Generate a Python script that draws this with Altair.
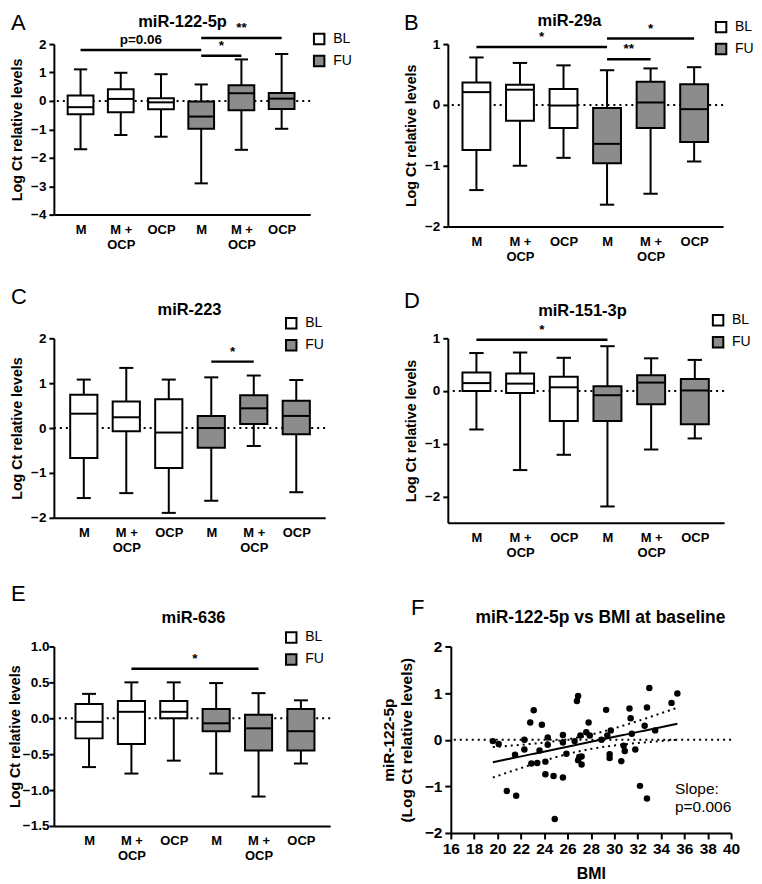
import altair as alt
import pandas as pd
import numpy as np

FONT = "Liberation Sans"
GROUPS = ["M", "M +\nOCP", "OCP", "M", "M +\nOCP", "OCP"]
VISITS = ["BL", "BL", "BL", "FU", "FU", "FU"]
VISIT_COLORS = ["white", "#8c8c8c"]

# ---------------- Panel A: miR-122-5p ----------------
a_low = [-1.70, -1.20, -1.26, -2.90, -1.72, -0.98]
a_q1 = [-0.47, -0.40, -0.29, -0.98, -0.33, -0.28]
a_med = [-0.22, 0.07, -0.05, -0.55, 0.27, 0.08]
a_q3 = [0.19, 0.41, 0.09, -0.02, 0.55, 0.28]
a_high = [1.11, 0.99, 0.94, 0.58, 1.46, 1.65]
a_sig_from = [1, 4, 4]
a_sig_to = [4, 6, 5]
a_sig_y = [1.79, 2.21, 1.59]
a_sig_text = ["p=0.06", "**", "*"]

# ---------------- Panel B: miR-29a ----------------
b_low = [-1.40, -1.00, -0.87, -1.64, -1.46, -0.93]
b_q1 = [-0.74, -0.26, -0.38, -0.96, -0.38, -0.61]
b_med = [0.21, 0.25, -0.01, -0.64, 0.04, -0.07]
b_q3 = [0.37, 0.33, 0.26, -0.05, 0.38, 0.34]
b_high = [0.78, 0.69, 0.65, 0.57, 0.60, 0.62]
b_sig_from = [1, 4, 4]
b_sig_to = [4, 6, 5]
b_sig_y = [0.95, 1.09, 0.75]
b_sig_text = ["*", "*", "**"]

# ---------------- Panel C: miR-223 ----------------
c_low = [-1.56, -1.45, -1.89, -1.62, -0.40, -1.43]
c_q1 = [-0.67, -0.07, -0.89, -0.44, 0.09, -0.14]
c_med = [0.32, 0.24, -0.10, 0.00, 0.44, 0.27]
c_q3 = [0.74, 0.59, 0.64, 0.27, 0.73, 0.61]
c_high = [1.08, 1.34, 1.08, 1.13, 1.17, 1.07]
c_sig_from = [4]
c_sig_to = [5]
c_sig_y = [1.48]
c_sig_text = ["*"]

# ---------------- Panel D: miR-151-3p ----------------
d_low = [-0.73, -1.50, -1.21, -2.19, -1.11, -0.90]
d_q1 = [0.00, -0.04, -0.57, -0.57, -0.25, -0.63]
d_med = [0.15, 0.14, 0.07, -0.08, 0.16, 0.01]
d_q3 = [0.35, 0.33, 0.27, 0.09, 0.30, 0.23]
d_high = [0.72, 0.73, 0.63, 0.85, 0.62, 0.59]
d_sig_from = [1]
d_sig_to = [4]
d_sig_y = [0.97]
d_sig_text = ["*"]

# ---------------- Panel E: miR-636 ----------------
e_low = [-0.68, -0.77, -0.59, -0.77, -1.09, -0.63]
e_q1 = [-0.28, -0.36, 0.00, -0.18, -0.45, -0.45]
e_med = [-0.05, 0.09, 0.09, -0.07, -0.14, -0.18]
e_q3 = [0.20, 0.24, 0.24, 0.13, 0.05, 0.13]
e_high = [0.34, 0.50, 0.50, 0.49, 0.35, 0.25]
e_sig_from = [2]
e_sig_to = [5]
e_sig_y = [0.69]
e_sig_text = ["*"]

# ---------------- Panel F: miR-122-5p vs BMI ----------------
f_bmi = [19.6, 20.1, 20.8, 21.5, 21.6, 22.3, 22.3, 22.8, 22.9, 23.1,
         23.4, 23.8, 23.6, 24.1, 24.1, 24.3, 24.3, 24.8, 24.9, 25.6,
         25.6, 25.6, 25.9, 26.6, 26.8, 26.9, 26.9, 27.0, 27.1, 27.2,
         27.2, 27.6, 27.8, 27.9, 28.9, 29.3, 29.4, 29.6, 29.6, 29.7,
         30.6, 30.8, 30.9, 31.3, 31.4, 31.5, 31.8, 32.2, 32.6, 32.8,
         32.8, 33.0, 33.5, 34.9, 35.4]
f_mir = [-0.03, -0.09, -1.10, -0.32, -1.20, 0.00, -0.21, 0.37, -0.51, 0.63,
         -0.50, 0.32, -0.23, -0.47, -0.74, 0.05, -0.11, -0.78, -1.70, 0.10,
         -0.06, -0.81, -0.30, -0.03, 0.83, 0.94, -0.44, -0.37, 0.09, -0.53,
         -0.36, 0.16, 0.37, 0.09, 0.00, 0.64, 0.09, -0.31, -0.39, 0.20,
         -0.46, -0.13, -0.24, 0.67, 0.46, 0.13, -0.21, -0.99, 0.30, 0.69,
         -1.26, 1.11, 0.20, 0.79, 0.99]
f_note = ["Slope:", "p=0.006"]


def label_expr(groups):
    parts = []
    for g in groups:
        parts.append("[" + ",".join("'" + p + "'" for p in g.split("\n")) + "]")
    return "[" + ",".join(parts) + "][datum.value - 1]"


def letter_layer(letter, lx, ly):
    return alt.Chart(pd.DataFrame({"t": [letter]})).mark_text(
        align="left", baseline="alphabetic", fontSize=22, font=FONT,
        fontWeight="normal", color="black"
    ).encode(text="t:N", x=alt.value(lx), y=alt.value(ly))


def title_layer(title, tx, ty, size=16.5):
    return alt.Chart(pd.DataFrame({"t": [title]})).mark_text(
        align="center", baseline="middle", fontSize=size, font=FONT,
        fontWeight="bold", color="black"
    ).encode(text="t:N", x=alt.value(tx), y=alt.value(ty))


def box_panel(letter, title, low, q1, med, q3, high,
              sig_from, sig_to, sig_y, sig_text,
              ydom, yticks, yfmt, w, h, xdom,
              legend_xy, letter_xy, title_xy, lab_pad=3, tit_pad=6):
    df = pd.DataFrame({
        "pos": list(range(1, len(GROUPS) + 1)),
        "visit": VISITS,
        "low": low, "q1": q1, "med": med, "q3": q3, "high": high,
    })
    base = alt.Chart(df)
    xs = alt.Scale(domain=xdom, nice=False, zero=False)
    ys = alt.Scale(domain=ydom, nice=False, zero=False)
    xaxis = alt.Axis(values=list(range(1, len(GROUPS) + 1)), labelExpr=label_expr(GROUPS),
                     ticks=False, title=None, grid=False, labelFontSize=13,
                     labelFontWeight="bold", labelPadding=9, labelLineHeight=15,
                     labelBaseline="top", labelFlush=False, labelOverlap=False)
    yaxis = alt.Axis(values=yticks, format=yfmt, title="Log Ct relative levels",
                     grid=False, tickSize=5, labelFontSize=13.5, labelFontWeight="bold",
                     titleFontSize=14.3, titleFontWeight="bold", labelPadding=lab_pad,
                     titlePadding=tit_pad)
    X = alt.X("pos:Q", scale=xs, axis=xaxis)

    zero = alt.Chart(pd.DataFrame({"z": [0]})).mark_rule(
        color="black", strokeDash=[2, 4], strokeWidth=2
    ).encode(y=alt.Y("z:Q", scale=ys, axis=yaxis))

    whisk = base.mark_rule(color="black", strokeWidth=2).encode(
        x=X, y=alt.Y("low:Q", scale=ys, axis=yaxis), y2="high:Q")

    caps = base.transform_fold(["low", "high"], as_=["k", "v"]).transform_calculate(
        xl="datum.pos - 0.165", xr="datum.pos + 0.165"
    ).mark_rule(color="black", strokeWidth=2).encode(
        x=alt.X("xl:Q", scale=xs, axis=xaxis), x2="xr:Q",
        y=alt.Y("v:Q", scale=ys, axis=yaxis))

    box = base.transform_calculate(
        xl="datum.pos - 0.32", xr="datum.pos + 0.32"
    ).mark_bar(stroke="black", strokeWidth=2).encode(
        x=alt.X("xl:Q", scale=xs, axis=xaxis), x2="xr:Q",
        y=alt.Y("q1:Q", scale=ys, axis=yaxis), y2="q3:Q",
        fill=alt.Fill("visit:N", scale=alt.Scale(domain=["BL", "FU"], range=VISIT_COLORS),
                      legend=alt.Legend(title=None, orient="none",
                                        legendX=legend_xy[0], legendY=legend_xy[1],
                                        symbolType="square", symbolSize=110,
                                        symbolStrokeColor="black", symbolStrokeWidth=2,
                                        labelFontSize=14, labelFont=FONT, labelColor="black",
                                        labelOffset=7, rowPadding=2, padding=0)))

    medl = base.transform_calculate(
        xl="datum.pos - 0.32", xr="datum.pos + 0.32"
    ).mark_rule(color="black", strokeWidth=2).encode(
        x=alt.X("xl:Q", scale=xs, axis=xaxis), x2="xr:Q",
        y=alt.Y("med:Q", scale=ys, axis=yaxis))

    sdf = pd.DataFrame({"a": sig_from, "b": sig_to, "y": sig_y, "t": sig_text})
    sig_rule = alt.Chart(sdf).mark_rule(color="black", strokeWidth=2.5).encode(
        x=alt.X("a:Q", scale=xs, axis=xaxis), x2="b:Q",
        y=alt.Y("y:Q", scale=ys, axis=yaxis))
    sig_txt = alt.Chart(sdf).transform_calculate(m="(datum.a + datum.b) / 2").mark_text(
        baseline="bottom", dy=-3, fontSize=13.5, fontWeight="bold", font=FONT, color="black"
    ).encode(x=alt.X("m:Q", scale=xs, axis=xaxis), y=alt.Y("y:Q", scale=ys, axis=yaxis),
             text="t:N")

    layers = [zero, whisk, caps, box, medl, sig_rule, sig_txt,
              letter_layer(letter, *letter_xy), title_layer(title, *title_xy)]
    return alt.layer(*layers).properties(width=w, height=h)


pA = box_panel("A", "miR-122-5p", a_low, a_q1, a_med, a_q3, a_high,
               a_sig_from, a_sig_to, a_sig_y, a_sig_text,
               [-4, 2], [-4, -3, -2, -1, 0, 1, 2], "d", 257, 171, [0.337, 6.71],
               (259, -12), (-43, -14), (129, -22))
pB = box_panel("B", "miR-29a", b_low, b_q1, b_med, b_q3, b_high,
               b_sig_from, b_sig_to, b_sig_y, b_sig_text,
               [-2, 1], [-2, -1, 0, 1], "d", 276, 183, [0.343, 6.665],
               (267, -24), (-44, -14), (122, -23))
pC = box_panel("C", "miR-223", c_low, c_q1, c_med, c_q3, c_high,
               c_sig_from, c_sig_to, c_sig_y, c_sig_text,
               [-2, 2], [-2, -1, 0, 1, 2], "d", 272, 180, [0.296, 6.68],
               (231, -22), (-43, -34), (136, -28))
pD = box_panel("D", "miR-151-3p", d_low, d_q1, d_med, d_q3, d_high,
               d_sig_from, d_sig_to, d_sig_y, d_sig_text,
               [-2.5, 1], [-2, -1, 0, 1], "d", 277, 185, [0.345, 6.67],
               (264, -25), (-44, -30), (135, -27))
pE = box_panel("E", "miR-636", e_low, e_q1, e_med, e_q3, e_high,
               e_sig_from, e_sig_to, e_sig_y, e_sig_text,
               [-1.5, 1.0], [-1.5, -1.0, -0.5, 0.0, 0.5, 1.0], ".1f", 277, 180, [0.17, 6.69],
               (231, -16), (-43, -46), (140, -29), lab_pad=0, tit_pad=0)

# ---- Panel F scatter with regression ----
xb = np.array(f_bmi)
yb = np.array(f_mir)
n = len(xb)
slope, intercept = np.polyfit(xb, yb, 1)
resid = yb - (slope * xb + intercept)
s = np.sqrt(np.sum(resid ** 2) / (n - 2))
xbar = xb.mean()
sxx = np.sum((xb - xbar) ** 2)
tcrit = 2.006
grid = np.linspace(xb.min(), xb.max(), 40)
fit = slope * grid + intercept
half = tcrit * s * np.sqrt(1.0 / n + (grid - xbar) ** 2 / sxx)
fit_df = pd.DataFrame({"x": grid, "fit": fit, "lo": fit - half, "hi": fit + half})
pts_df = pd.DataFrame({"bmi": f_bmi, "mir": f_mir})

fxs = alt.Scale(domain=[16, 40], nice=False, zero=False)
fys = alt.Scale(domain=[-2, 2], nice=False, zero=False)
fxaxis = alt.Axis(values=list(range(16, 41, 2)), title="BMI", grid=False, tickSize=6,
                  labelFontSize=15.5, labelFontWeight="bold", titleFontSize=16,
                  titleFontWeight="bold", titlePadding=8, labelPadding=3, labelFlush=False)
fyaxis = alt.Axis(values=[-2, -1, 0, 1, 2], title=["miR-122-5p", "(Log Ct relative levels)"],
                  grid=False, tickSize=6, labelFontSize=15.5, labelFontWeight="bold",
                  titleFontSize=15.5, titleFontWeight="bold", titlePadding=10, labelPadding=3)

f_zero = alt.Chart(pd.DataFrame({"z": [0]})).mark_rule(
    color="black", strokeDash=[2, 4], strokeWidth=2
).encode(y=alt.Y("z:Q", scale=fys, axis=fyaxis))
f_pts = alt.Chart(pts_df).mark_circle(size=42, color="black", opacity=1).encode(
    x=alt.X("bmi:Q", scale=fxs, axis=fxaxis), y=alt.Y("mir:Q", scale=fys, axis=fyaxis))
f_fit = alt.Chart(fit_df).mark_line(color="black", strokeWidth=2).encode(
    x=alt.X("x:Q", scale=fxs, axis=fxaxis), y=alt.Y("fit:Q", scale=fys, axis=fyaxis))
f_lo = alt.Chart(fit_df).mark_line(color="black", strokeWidth=2, strokeDash=[2, 4]).encode(
    x=alt.X("x:Q", scale=fxs, axis=fxaxis), y=alt.Y("lo:Q", scale=fys, axis=fyaxis))
f_hi = alt.Chart(fit_df).mark_line(color="black", strokeWidth=2, strokeDash=[2, 4]).encode(
    x=alt.X("x:Q", scale=fxs, axis=fxaxis), y=alt.Y("hi:Q", scale=fys, axis=fyaxis))
f_text = alt.Chart(pd.DataFrame({"x": [35.2], "y": [-0.9], "t": [f_note]})).mark_text(
    align="left", baseline="top", fontSize=15.5, font=FONT, color="black", lineHeight=18
).encode(x=alt.X("x:Q", scale=fxs, axis=fxaxis), y=alt.Y("y:Q", scale=fys, axis=fyaxis),
         text="t")

pF = alt.layer(f_zero, f_pts, f_fit, f_lo, f_hi, f_text,
               letter_layer("F", -40, -32),
               title_layer("miR-122-5p vs BMI at baseline", 150, -29, 17.5)
               ).properties(width=281, height=187)


def row(left, right, gap):
    return alt.hconcat(left, right, spacing=gap).resolve_scale(
        x="independent", y="independent", fill="independent"
    ).resolve_legend(fill="independent")


chart = alt.vconcat(row(pA, pB, 52), row(pC, pD, 78), row(pE, pF, 50), spacing=23).resolve_scale(
    x="independent", y="independent", fill="independent"
).resolve_legend(fill="independent").properties(
    padding={"left": 0, "top": 3, "right": 0, "bottom": 0}, background="white"
).configure_view(stroke=None).configure_axis(
    labelFont=FONT, titleFont=FONT, labelColor="black", titleColor="black",
    domainColor="black", tickColor="black", domainWidth=2, tickWidth=2, grid=False
).configure_text(font=FONT)

chart.save("out.html", embed_options={"renderer": "svg", "actions": False})
